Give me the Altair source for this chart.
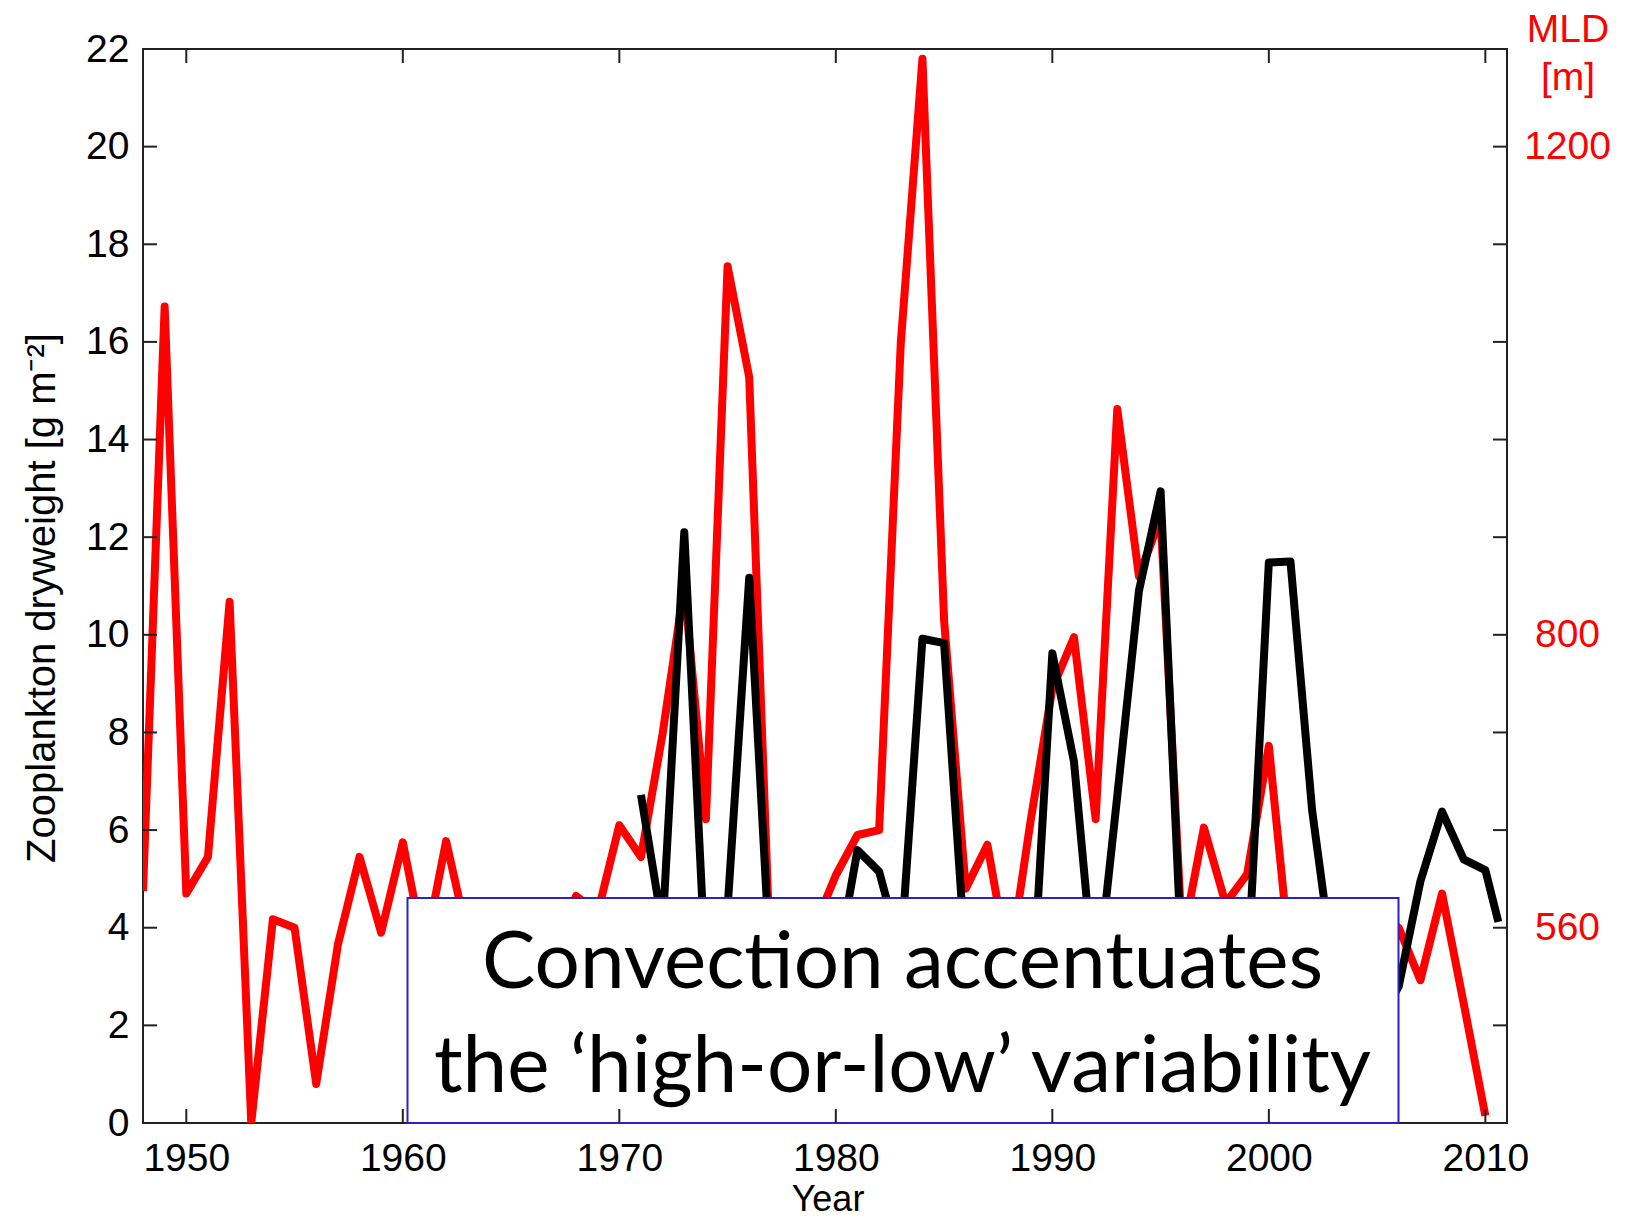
import altair as alt
import pandas as pd

# ---------------- data ----------------
red_years = list(range(1948, 2011))
red_mld = [590, 1069, 588, 618, 827, 400, 567, 560, 432, 546,
           618, 556, 630, 540, 631, 552, 568, 544, 560, 536,
           586, 572, 644, 618, 719, 840, 649, 1102, 1011, 520,
           540, 560, 603, 636, 640, 1039, 1272, 812, 592, 628,
           528, 648, 756, 798, 649, 985, 848, 896, 549, 642,
           580, 604, 709, 531, 552, 568, 540, 572, 560, 517,
           588, 498, 406]

black_years = list(range(1971, 2011)) + [2010.6]
black_zoo = [6.72, 4.0, 12.1, 3.0, 4.4, 11.17, 3.0, 2.5, 3.5, 3.1,
             5.59, 5.15, 3.5, 9.92, 9.83, 3.3, 3.0, 3.5, 2.0, 9.62,
             7.4, 2.6, 6.7, 10.9, 12.94, 3.1, 2.5, 3.0, 2.9, 11.48,
             11.5, 6.4, 3.1, 2.5, 2.0, 2.8, 4.95, 6.38, 5.40, 5.18,
             4.12]

x_ticks = [1950, 1960, 1970, 1980, 1990, 2000, 2010]
z_ticks = [0, 2, 4, 6, 8, 10, 12, 14, 16, 18, 20, 22]
mld_labels = [560, 800, 1200]
box_lines = ["Convection accentuates", "the \u2018high-or-low\u2019 variability"]
y_title = "Zooplankton dryweight [g m\u207b\u00b2]"
x_title = "Year"
right_title = ["MLD", "[m]"]

df_red = pd.DataFrame({"year": red_years, "mld": red_mld})
df_black = pd.DataFrame({"year": black_years, "zoo": black_zoo})
df_xt = pd.DataFrame({"year": x_ticks})
df_zt = pd.DataFrame({"z": z_ticks})
one = pd.DataFrame({"k": [0]})

# ---------------- layout ----------------
W, H = 1364, 1074
FONT = "Liberation Sans"
FS = 39
AX = "#222222"

xscale = alt.Scale(domain=[1948, 2011], nice=False, zero=False)
zscale = alt.Scale(domain=[0, 22], nice=False, zero=False)
mscale = alt.Scale(domain=[400, 1280], nice=False, zero=False)

x_axis = alt.Axis(values=x_ticks, format="d", title=None, grid=False, domain=False,
                  ticks=False, tickSize=0, labelFont=FONT, labelFontSize=FS,
                  labelColor="black", labelPadding=16)
left_axis = alt.Axis(values=z_ticks, orient="left", title=None, grid=False, domain=False,
                     ticks=False, tickSize=0, labelFont=FONT, labelFontSize=FS,
                     labelColor="black", labelPadding=14)
right_axis = alt.Axis(values=mld_labels, orient="right", format="d", title=None,
                      grid=False, domain=False, ticks=False, tickSize=0,
                      labelFont=FONT, labelFontSize=FS, labelColor="#ff0000",
                      labelAlign="center", labelPadding=60)

red = alt.Chart(df_red).mark_line(color="#ff0000", strokeWidth=8, clip=True,
                                  strokeJoin="round").encode(
    x=alt.X("year:Q", scale=xscale, axis=x_axis),
    y=alt.Y("mld:Q", scale=mscale, axis=right_axis),
)

black = alt.Chart(df_black).mark_line(color="#000000", strokeWidth=8, clip=True,
                                      strokeJoin="round").encode(
    x=alt.X("year:Q", scale=xscale, axis=x_axis),
    y=alt.Y("zoo:Q", scale=zscale, axis=left_axis),
)

box = alt.Chart(one).mark_rect(fill="white", stroke="#2a22c4", strokeWidth=2).encode(
    x=alt.value(264.5), x2=alt.value(1255.5), y=alt.value(849), y2=alt.value(H),
)

box_text = alt.Chart(one).mark_text(
    text=box_lines, font="Lato", fontSize=80, align="center",
    baseline="alphabetic", lineHeight=104, color="black",
).encode(x=alt.value(759.5), y=alt.value(939))

left_ticks = alt.Chart(df_zt).mark_rule(color=AX, strokeWidth=2).encode(
    y=alt.Y("z:Q", scale=zscale, axis=None), x=alt.value(0), x2=alt.value(14))
right_ticks = alt.Chart(df_zt).mark_rule(color=AX, strokeWidth=2).encode(
    y=alt.Y("z:Q", scale=zscale, axis=None), x=alt.value(W - 14), x2=alt.value(W))
bottom_ticks = alt.Chart(df_xt).mark_rule(color=AX, strokeWidth=2).encode(
    x=alt.X("year:Q", scale=xscale, axis=x_axis), y=alt.value(H - 14), y2=alt.value(H))
top_ticks = alt.Chart(df_xt).mark_rule(color=AX, strokeWidth=2).encode(
    x=alt.X("year:Q", scale=xscale, axis=x_axis), y=alt.value(0), y2=alt.value(14))

ytitle = alt.Chart(one).mark_text(
    text=y_title, font=FONT, fontSize=40, angle=270, align="center",
    baseline="alphabetic", color="black",
).encode(x=alt.value(-88), y=alt.value(549))

xtitle = alt.Chart(one).mark_text(
    text=x_title, font=FONT, fontSize=36, align="center",
    baseline="alphabetic", color="black",
).encode(x=alt.value(685), y=alt.value(1162))

rtitle = alt.Chart(one).mark_text(
    text=right_title, font=FONT, fontSize=FS, align="center",
    baseline="alphabetic", lineHeight=48, color="#ff0000",
).encode(x=alt.value(1425), y=alt.value(-7))

chart = alt.layer(
    red, black, box, box_text, left_ticks, right_ticks, bottom_ticks, top_ticks,
    ytitle, xtitle, rtitle,
).resolve_scale(y="independent").properties(
    width=W, height=H,
    autosize=alt.AutoSizeParams(type="none"),
    padding={"left": 135, "top": 41, "right": 110, "bottom": 96},
    background="white",
).configure_view(stroke=AX, strokeWidth=2)

chart.save("out.html", embed_options={"renderer": "svg", "actions": False})
